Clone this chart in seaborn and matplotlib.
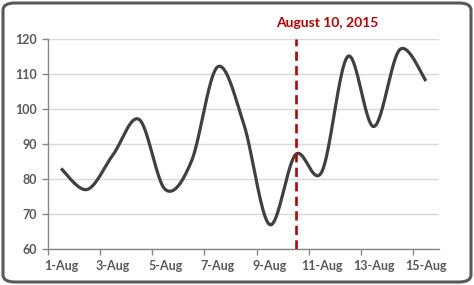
import numpy as np
import pandas as pd
import matplotlib
matplotlib.use("Agg")
import matplotlib.pyplot as plt
from matplotlib.patches import FancyBboxPatch
import seaborn as sns

# ---- data ----
dates = ["1-Aug", "2-Aug", "3-Aug", "4-Aug", "5-Aug", "6-Aug", "7-Aug", "8-Aug",
         "9-Aug", "10-Aug", "11-Aug", "12-Aug", "13-Aug", "14-Aug", "15-Aug"]
values = [83, 77, 87, 97, 77, 85, 112, 96, 67, 87, 82, 115, 95, 117, 108]
marker_date = "10-Aug"
marker_label = "August 10, 2015"
yticks = [60, 70, 80, 90, 100, 110, 120]

sns.set_theme(style="white")
plt.rcParams["font.family"] = ["Lato", "DejaVu Sans"]

fig = plt.figure(figsize=(4.74, 2.85), dpi=100)
ax = fig.add_axes([48 / 474, 1 - 249 / 285, (439 - 48) / 474, (249 - 39) / 285])

# smoothed line (Excel-style Catmull-Rom Bezier) computed from the data points
x = np.arange(len(values), dtype=float)
y = np.array(values, dtype=float)
px = np.concatenate([[x[0]], x, [x[-1]]])
py = np.concatenate([[y[0]], y, [y[-1]]])
sx, sy = [], []
t = np.linspace(0, 1, 40)
for i in range(len(x) - 1):
    p0 = np.array([px[i + 1], py[i + 1]])
    p3 = np.array([px[i + 2], py[i + 2]])
    c1 = p0 + (np.array([px[i + 2], py[i + 2]]) - np.array([px[i], py[i]])) / 6
    c2 = p3 - (np.array([px[i + 3], py[i + 3]]) - np.array([px[i + 1], py[i + 1]])) / 6
    for tt in t[:-1] if i < len(x) - 2 else t:
        b = ((1 - tt) ** 3) * p0 + 3 * ((1 - tt) ** 2) * tt * c1 + 3 * (1 - tt) * tt ** 2 * c2 + tt ** 3 * p3
        sx.append(b[0]); sy.append(b[1])
df = pd.DataFrame({"x": sx, "y": sy})
sns.lineplot(data=df, x="x", y="y", ax=ax, color="#404040", linewidth=2.3,
             sort=False, estimator=None, solid_capstyle="butt")

# marker line
mx = dates.index(marker_date)
ax.plot([mx, mx], [yticks[0], yticks[-1]], color="#C00000", linewidth=1.9,
        dashes=(3.5, 2), zorder=3)
fig.text(327 / 474, 1 - 23 / 285, marker_label, color="#C00000", fontsize=10,
         fontweight="bold", ha="center", va="center")

ax.set_xlim(-0.5, len(dates) - 0.5)
ax.set_ylim(yticks[0], yticks[-1])
ax.set_yticks(yticks)
ax.set_yticklabels([str(v) for v in yticks])
ax.set_xticks(np.arange(-0.5, len(dates) - 0.5, 2))
ax.set_xticklabels([])
ax.set_xticks(np.arange(0, len(dates), 2), minor=True)
ax.set_xticklabels(dates[::2], minor=True)
ax.tick_params(axis="x", which="major", length=4, width=1, color="#868686", direction="out", bottom=True)
ax.tick_params(axis="x", which="minor", length=0, pad=8, labelsize=9, labelcolor="#595959")
ax.tick_params(axis="y", length=4, width=1, color="#868686", direction="out", left=True,
               labelsize=9, labelcolor="#595959", pad=4)
for lab in ax.get_xticklabels(minor=True) + ax.get_yticklabels():
    lab.set_fontweight("bold")
ax.set_xlabel("")
ax.set_ylabel("")
ax.grid(axis="y", color="#D9D9D9", linewidth=1)
ax.set_axisbelow(True)
for s in ["top", "right"]:
    ax.spines[s].set_visible(False)
for s in ["left", "bottom"]:
    ax.spines[s].set_color("#868686")
    ax.spines[s].set_linewidth(1)

border = FancyBboxPatch((3 / 474, 3 / 285), 1 - 6 / 474, 1 - 6 / 285,
                        boxstyle="round,pad=0,rounding_size=0.025",
                        transform=fig.transFigure, facecolor="none",
                        edgecolor="#595959", linewidth=2.2, clip_on=False)
fig.patches.append(border)

fig.savefig("out.png", dpi=100)
